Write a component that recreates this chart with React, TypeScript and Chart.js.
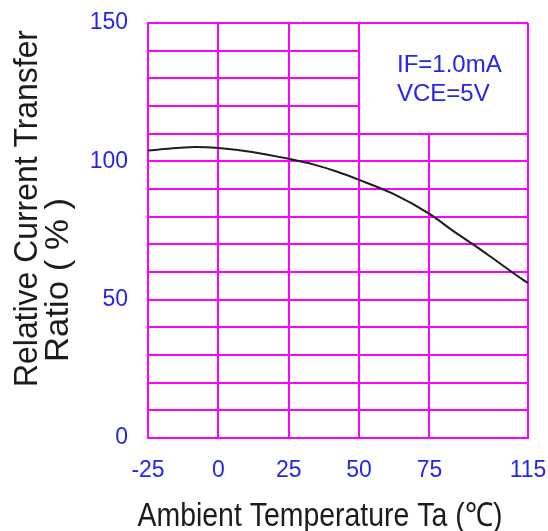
import React, { useEffect, useRef } from 'react';
import { Chart, registerables, LinearScale } from 'chart.js';

Chart.register(...registerables);

// ---- data ----
const temperatures = [-25, -15, -8, 0, 12, 25, 34, 42, 50, 62, 75, 85, 93, 100, 110, 115];
const ctrValues = [103.9, 104.8, 105.2, 104.8, 103.4, 100.9, 98.8, 96.3, 93.3, 88.3, 81.0, 74.6, 69.8, 65.4, 59.0, 56.0];
const xTickValues = [-25, 0, 25, 50, 75, 115];
const xTickLabels = ['-25', '0', '25', '50', '75', '115'];
const yLabelledTicks = [0, 50, 100, 150];
const conditionLines = ['IF=1.0mA', 'VCE=5V'];
const conditionBoxX = [50, 115];
const conditionBoxY = [110, 150];
const yTitleLines = ['Relative Current Transfer', 'Ratio ( % )'];
const xTitle = 'Ambient Temperature Ta (\u2103)';

const MAGENTA = '#ff00ff';
const BLUE = '#2424ee';
const INK = '#1c1c1c';
const SANS = "'Liberation Sans', Arial, sans-serif";
const NARROW = "'Liberation Sans Narrow', 'Liberation Sans', Arial, sans-serif";

// The last column of the original grid (75..115) is drawn narrower than the others.
const X_BREAK = 75;
const X_SQUEEZE = 35 / 40;

class BrokenLinearScale extends LinearScale {
  static id = 'brokenLinear';
  static defaults = LinearScale.defaults;
  warp(v: number) {
    return v <= X_BREAK ? v : X_BREAK + (v - X_BREAK) * X_SQUEEZE;
  }
  getPixelForValue(value: number) {
    const a = this.warp(this.min);
    const b = this.warp(this.max);
    return this.getPixelForDecimal((this.warp(value) - a) / (b - a));
  }
  getValueForPixel(pixel: number) {
    const a = this.warp(this.min);
    const b = this.warp(this.max);
    const w = a + this.getDecimalForPixel(pixel) * (b - a);
    return w <= X_BREAK ? w : X_BREAK + (w - X_BREAK) / X_SQUEEZE;
  }
}
Chart.register(BrokenLinearScale as any);

function fitText(ctx: CanvasRenderingContext2D, text: string, width: number) {
  const m = ctx.measureText(text).width;
  ctx.save();
  ctx.scale(width / m, 1);
  ctx.fillText(text, 0, 0);
  ctx.restore();
}

const overlayPlugin = {
  id: 'overlay',
  beforeDatasetsDraw(chart: any) {
    const { ctx, scales } = chart;
    const x = scales.x;
    const y = scales.y;
    const l = Math.round(x.getPixelForValue(conditionBoxX[0])) + 1;
    const r = Math.round(x.getPixelForValue(conditionBoxX[1])) - 1;
    const t = Math.round(y.getPixelForValue(conditionBoxY[1])) + 1;
    const b = Math.round(y.getPixelForValue(conditionBoxY[0])) - 1;
    ctx.save();
    ctx.fillStyle = '#ffffff';
    ctx.fillRect(l, t, r - l, b - t);
    ctx.fillStyle = BLUE;
    ctx.font = `24px ${SANS}`;
    ctx.textAlign = 'left';
    ctx.textBaseline = 'alphabetic';
    conditionLines.forEach((line, i) => {
      ctx.fillText(line, l + 37, t + 48 + i * 29);
    });
    ctx.restore();
  },
  afterDraw(chart: any) {
    const { ctx } = chart;
    ctx.save();
    ctx.fillStyle = INK;
    ctx.font = `33px ${NARROW}`;
    ctx.textAlign = 'center';
    ctx.textBaseline = 'alphabetic';
    const yPos = [
      { bx: 37, cy: 208.5, w: 357 },
      { bx: 68, cy: 280, w: 164 },
    ];
    yTitleLines.forEach((line, i) => {
      ctx.save();
      ctx.translate(yPos[i].bx, yPos[i].cy);
      ctx.rotate(-Math.PI / 2);
      fitText(ctx, line, yPos[i].w);
      ctx.restore();
    });
    ctx.save();
    ctx.translate(320, 526);
    fitText(ctx, xTitle, 365);
    ctx.restore();
    ctx.restore();
  },
};

export default function App() {
  const canvasRef = useRef<HTMLCanvasElement | null>(null);

  useEffect(() => {
    if (!canvasRef.current) return;
    const chart = new Chart(canvasRef.current, {
      type: 'line',
      data: {
        datasets: [
          {
            data: temperatures.map((t, i) => ({ x: t, y: ctrValues[i] })),
            borderColor: INK,
            borderWidth: 2,
            pointRadius: 0,
            tension: 0.4,
            cubicInterpolationMode: 'monotone',
            fill: false,
          },
        ],
      },
      options: {
        animation: false,
        responsive: true,
        maintainAspectRatio: false,
        layout: { padding: { top: 23, right: 20, left: 0, bottom: 0 } },
        plugins: {
          legend: { display: false },
          tooltip: { enabled: false },
          title: { display: false },
        },
        scales: {
          x: {
            type: 'brokenLinear' as any,
            min: -25,
            max: 115,
            afterBuildTicks: (s: any) => {
              s.ticks = xTickValues.map((v) => ({ value: v }));
            },
            afterFit: (s: any) => {
              s.height = 93;
              s.paddingLeft = 0;
              s.paddingRight = 0;
            },
            grid: { color: MAGENTA, lineWidth: 2, drawTicks: false },
            border: { color: MAGENTA, width: 2 },
            ticks: {
              color: BLUE,
              font: { family: SANS, size: 23 },
              padding: 19,
              maxRotation: 0,
              autoSkip: false,
              callback: (_v: any, i: number) => xTickLabels[i],
            },
          },
          y: {
            type: 'linear',
            min: 0,
            max: 150,
            afterFit: (s: any) => {
              s.width = 148;
              s.paddingTop = 0;
              s.paddingBottom = 0;
            },
            grid: { color: MAGENTA, lineWidth: 2, drawTicks: false },
            border: { color: MAGENTA, width: 2 },
            ticks: {
              stepSize: 10,
              color: BLUE,
              font: { family: SANS, size: 23 },
              padding: 20,
              autoSkip: false,
              callback: (v: any) => (yLabelledTicks.includes(Number(v)) ? String(v) : ''),
            },
          },
        },
      },
      plugins: [overlayPlugin],
    } as any);
    return () => chart.destroy();
  }, []);

  return (
    <div style={{ position: 'fixed', left: 0, top: 0, width: 548, height: 531, background: '#fff' }}>
      <canvas ref={canvasRef} />
    </div>
  );
}
